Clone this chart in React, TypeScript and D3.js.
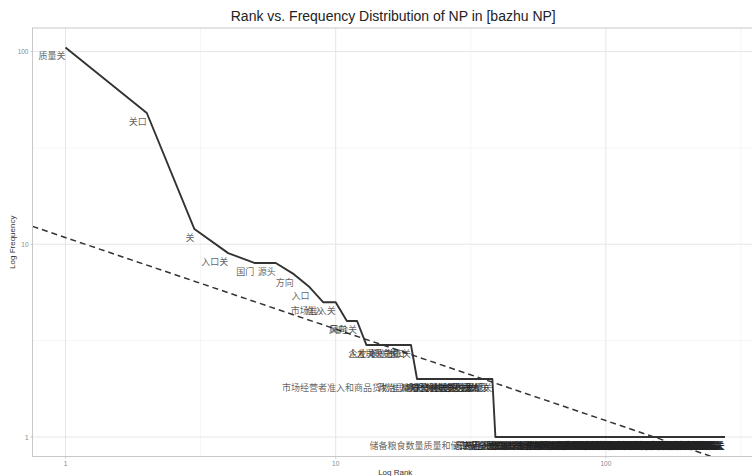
import React from 'react';
import * as d3 from 'd3';

const chartTitle = 'Rank vs. Frequency Distribution of NP in [bazhu NP]';
const xAxisTitle = 'Log Rank';
const yAxisTitle = 'Log Frequency';

// frequency levels (descending) and the noun phrases found at each level
const freqLevels = [105, 48, 12, 9, 8, 7, 6, 5, 4, 3, 2, 1];
const terms105 = ['质量关'];
const terms48 = ['关口'];
const terms12 = ['关'];
const terms9 = ['入口关'];
const terms8 = ['国门', '源头'];
const terms7 = ['方向'];
const terms6 = ['入口'];
const terms5 = ['准入', '市场准入关'];
const terms4 = ['风向', '风险关'];
const terms3 = ['企业', '人才关', '入境关', '门户', '岗位关', '出口', '命脉关'];
const terms2 = ['市场经营者准入和商品货物准入关', '政治思想关', '廉洁关', '审批关', '安全关', '环保关', '资金关', '价格关', '验收关', '检验关', '进货关', '出厂关', '药品关', '招生关', '考试关', '关键', '大门', '用人关', '思想关'];
const terms1 = (
  '储备粮食数量质量和储存安全关,选人用人关,干部任用关,工程质量关,食品安全关,产品质量关,进口关,出口关,原料关,采购关,' +
  '设计关,施工关,监理关,材料关,人员关,技术关,标准关,准入门槛,市场关,流通关,' +
  '生产关,销售关,运输关,储存关,使用关,报废关,登记关,注册关,许可关,备案关,' +
  '年检关,审核关,复核关,评审关,考核关,考评关,推荐关,提名关,考察关,公示关,' +
  '任前关,试用关,政审关,体检关,面试关,笔试关,录取关,录用关,聘用关,培训关,' +
  '上岗关,持证关,资质关,资格关,信用关,诚信关,舆论关,导向关,内容关,播出关,' +
  '出版关,发行关,印刷关,编辑关,审稿关,终审关,文字关,政策关,法律关,合同关,' +
  '招标关,投标关,评标关,定标关,预算关,决算关,结算关,支付关,报销关,财务关,' +
  '税收关,海关,边关,口岸关,检疫关,防疫关,卫生关,消毒关,病源关,传染源,' +
  '疫情关,质量源头,生产源头,污染源头,排放关,能耗关,用地关,规划关,项目关,立项关,' +
  '环评关,安评关,能评关,节能关,减排关,耗水关,用水关,取水关,水源关,饮水关,' +
  '粮食关,种子关,农药关,化肥关,饲料关,兽药关,屠宰关,肉品关,奶源关,乳品关,' +
  '添加剂关,包装关,标签关,广告关,宣传关,推介关,展销关,网络关,信息关,数据关,' +
  '保密关,安全保卫关,消防关,防火关,用电关,燃气关,特种设备关,电梯关,锅炉关,压力容器关,' +
  '危险品关,爆炸物关,枪支关,毒品关,走私关,偷渡关,出入境关,签证关,护照关,户籍关,' +
  '户口关,人口关,婚姻关,生育关,计生关,就业关,社保关,医保关,养老关,救助关,' +
  '低保关,补贴关,补助关,扶贫关,贷款关,信贷关,担保关,抵押关,风险控制关,利率关,' +
  '汇率关,外汇关,证券关,上市关,发审关,并购关,重组关,改制关,清算关,破产关,' +
  '资产关,评估关,产权关,土地关,拆迁关,征地关,安置关,补偿关,房产关,物业关,' +
  '建材关,钢材关,水泥关,砂石关,木材关,装修关,家具关,家电关,电器关,汽车关,' +
  '车辆关,驾驶关,驾照关,路考关,交通关,运营关,客运关,货运关,航运关,港口关,' +
  '机场关,航空关,铁路关,公路关,桥梁关,隧道关,水利关,堤防关,防汛关,抗旱关,' +
  '气象关,地震关,地质关,矿山关,煤矿关,安全生产关,井下关,通风关,瓦斯关,爆破关,' +
  '学历关,学位关,职称关,评优关,评先关,奖励关,表彰关,晋升关'
).split(',');

const termsByLevel = [terms105, terms48, terms12, terms9, terms8, terms7, terms6, terms5, terms4, terms3, terms2, terms1];

// fitted Zipf reference line: log10(freq) = intercept + slope * log10(rank)
const fitIntercept = 1.035;
const fitSlope = -0.475;

const xTickValues = [1, 10, 100];
const yTickValues = [1, 10, 100];

type Pt = { rank: number; freq: number; label: string };

const W = 752;
const H = 476;
const panel = { left: 32.5, right: 758, top: 28, bottom: 456.5 };

export default function App() {
  const points: Pt[] = [];
  termsByLevel.forEach((terms, i) => {
    terms.forEach((t) => {
      points.push({ rank: points.length + 1, freq: freqLevels[i], label: t });
    });
  });

  const lxExt = d3.extent(points, (d) => Math.log10(d.rank)) as [number, number];
  const lyExt = d3.extent(points, (d) => Math.log10(d.freq)) as [number, number];
  const ex = (lxExt[1] - lxExt[0]) * 0.05;
  const ey = (lyExt[1] - lyExt[0]) * 0.05;

  const x = d3
    .scaleLog()
    .domain([Math.pow(10, lxExt[0] - ex), Math.pow(10, lxExt[1] + ex)])
    .range([panel.left, panel.right]);
  const y = d3
    .scaleLog()
    .domain([Math.pow(10, lyExt[0] - ey), Math.pow(10, lyExt[1] + ey)])
    .range([panel.bottom, panel.top]);

  const line = d3
    .line<Pt>()
    .x((d) => x(d.rank))
    .y((d) => y(d.freq));

  const [r0, r1] = x.domain();
  const fitPts: [number, number][] = [r0, r1].map((r) => [
    x(r),
    y(Math.pow(10, fitIntercept + fitSlope * Math.log10(r))),
  ]);

  const xMinor = xTickValues.map((t) => t * Math.sqrt(10)).concat([Math.sqrt(10) / 10]);
  const yMinor = yTickValues.map((t) => t * Math.sqrt(10)).concat([Math.sqrt(10) / 10]);

  const inX = (v: number) => x(v) >= panel.left && x(v) <= panel.right;
  const inY = (v: number) => y(v) >= panel.top && y(v) <= panel.bottom;

  const cx = (panel.left + panel.right) / 2;
  const cy = (panel.top + panel.bottom) / 2;

  return (
    <svg
      width={W}
      height={H}
      style={{ position: 'absolute', left: 0, top: 0, background: '#fff' }}
      fontFamily="'Liberation Sans', Arial, sans-serif"
    >
      <defs>
        <clipPath id="pclip">
          <rect x={panel.left} y={panel.top} width={panel.right - panel.left} height={panel.bottom - panel.top} />
        </clipPath>
      </defs>
      <rect x={0} y={0} width={W} height={H} fill="#fff" />
      {/* grid */}
      <g>
        {xMinor.filter(inX).map((v, i) => (
          <line key={'xm' + i} x1={x(v)} x2={x(v)} y1={panel.top} y2={panel.bottom} stroke="#f0f0f0" strokeWidth={0.6} />
        ))}
        {yMinor.filter(inY).map((v, i) => (
          <line key={'ym' + i} x1={panel.left} x2={panel.right} y1={y(v)} y2={y(v)} stroke="#f0f0f0" strokeWidth={0.6} />
        ))}
        {xTickValues.filter(inX).map((v, i) => (
          <line key={'xg' + i} x1={x(v)} x2={x(v)} y1={panel.top} y2={panel.bottom} stroke="#e3e3e3" strokeWidth={0.9} />
        ))}
        {yTickValues.filter(inY).map((v, i) => (
          <line key={'yg' + i} x1={panel.left} x2={panel.right} y1={y(v)} y2={y(v)} stroke="#e3e3e3" strokeWidth={0.9} />
        ))}
      </g>
      <g clipPath="url(#pclip)">
        <path d={line(points) || ''} fill="none" stroke="#333" strokeWidth={1.9} strokeLinejoin="round" />
        <line
          x1={fitPts[0][0]}
          y1={fitPts[0][1]}
          x2={fitPts[1][0]}
          y2={fitPts[1][1]}
          stroke="#333"
          strokeWidth={1.5}
          strokeDasharray="6 4"
        />
      </g>
      <g fontFamily="'Noto Sans CJK SC', sans-serif" fontSize={9} fill="#222" fillOpacity={0.72} textAnchor="end">
        {points.map((d, i) => (
          <text key={'l' + i} x={x(d.rank)} y={y(d.freq) + 8.5} dominantBaseline="central">
            {d.label}
          </text>
        ))}
      </g>
      {/* panel border */}
      <rect
        x={panel.left}
        y={panel.top}
        width={panel.right - panel.left}
        height={panel.bottom - panel.top}
        fill="none"
        stroke="#c8c8c8"
        strokeWidth={1}
      />
      {/* ticks */}
      <g fontSize={6.5} fill="#888">
        {xTickValues.filter(inX).map((v, i) => (
          <g key={'xt' + i}>
            <line x1={x(v)} x2={x(v)} y1={panel.bottom} y2={panel.bottom + 2} stroke="#c8c8c8" />
            <text x={x(v)} y={panel.bottom + 9} textAnchor="middle">
              {d3.format('d')(v)}
            </text>
          </g>
        ))}
        {yTickValues.filter(inY).map((v, i) => (
          <g key={'yt' + i}>
            <line x1={panel.left - 2} x2={panel.left} y1={y(v)} y2={y(v)} stroke="#c8c8c8" />
            <text x={panel.left - 4} y={y(v)} textAnchor="end" dominantBaseline="central">
              {d3.format('d')(v)}
            </text>
          </g>
        ))}
      </g>
      <text x={cx} y={475} textAnchor="middle" fontSize={8} fill="#333">
        {xAxisTitle}
      </text>
      <text
        transform={`translate(12,${cy}) rotate(-90)`}
        textAnchor="middle"
        dominantBaseline="central"
        fontSize={8}
        fill="#333"
      >
        {yAxisTitle}
      </text>
      <text x={cx - 2} y={21} textAnchor="middle" fontSize={14} fill="#222">
        {chartTitle}
      </text>
    </svg>
  );
}
